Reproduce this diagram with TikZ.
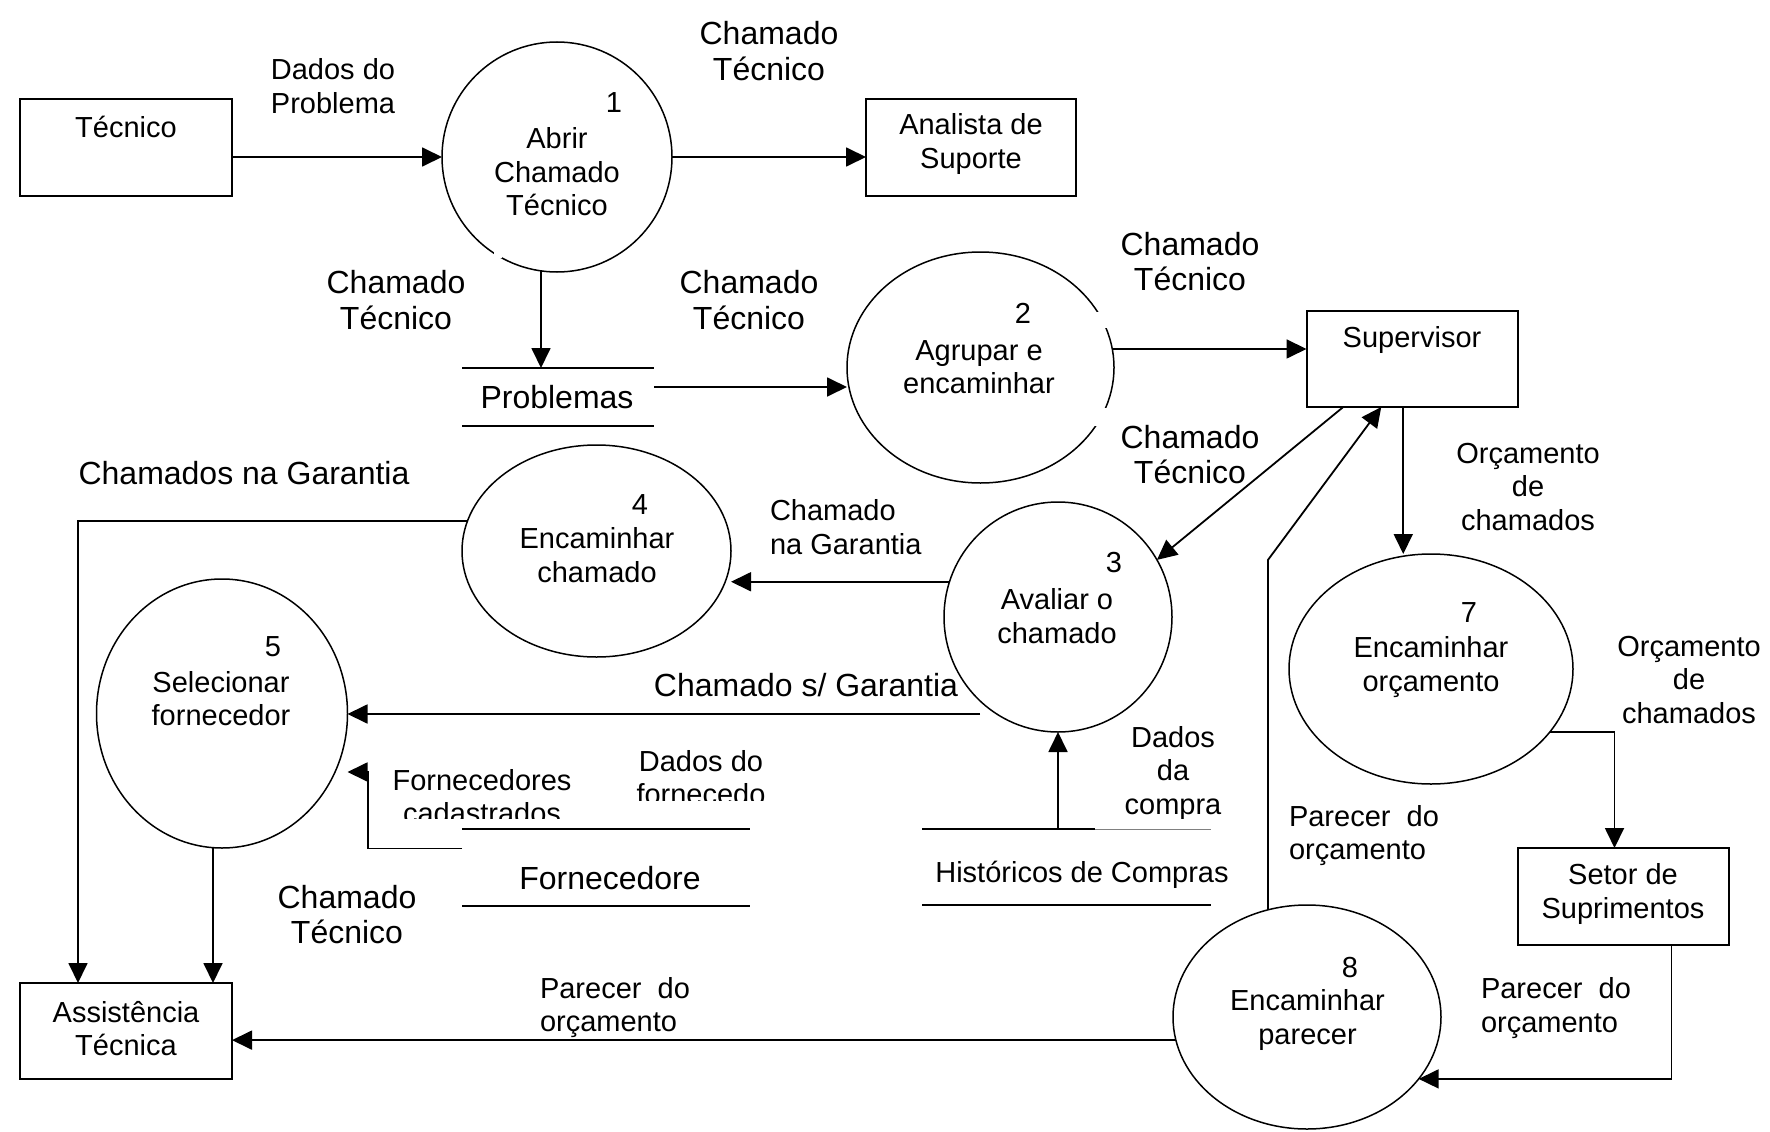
\documentclass[tikz,border=0pt]{standalone}
\usepackage{fontspec}
\setmainfont{Liberation Sans}
\usetikzlibrary{arrows.meta,shapes.geometric,calc}

\begin{document}
\begin{tikzpicture}[x=1pt,y=-1pt,
  every node/.style={inner sep=0pt, outer sep=0pt},
  sm/.style={font=\fontsize{29}{33.5}\selectfont, align=center},
  bg/.style={font=\fontsize{32}{35.5}\selectfont, align=center},
  proc/.style={ellipse, draw, line width=1.5pt},
  ent/.style={draw, line width=2pt},
  store/.style={},
  flow/.style={line width=1.8pt, -{Triangle[length=20pt,width=19pt]}},
  storeline/.style={line width=2pt},
]
\path[use as bounding box] (0,0) rectangle (1770,1132);
\fill[white] (0,0) rectangle (1770,1132);

% external entities
\node[ent, minimum width=212pt, minimum height=97pt] (tec) at (126,147.5) {};
\node[ent, minimum width=210pt, minimum height=97pt] (an) at (971,147.5) {};
\node[ent, minimum width=211.5pt, minimum height=96pt] (sup) at (1412.25,359) {};
\node[ent, minimum width=211pt, minimum height=97pt] (set) at (1623.5,896.5) {};
\node[ent, minimum width=212pt, minimum height=96pt] (asst) at (126,1031) {};

% processes
\node[proc, minimum width=230pt, minimum height=230pt] (c1) at (557,157) {};
\node[proc, minimum width=267pt, minimum height=231pt] (c2) at (980.5,367.5) {};
\node[proc, minimum width=228pt, minimum height=230pt] (c3) at (1058,617) {};
\node[proc, minimum width=269pt, minimum height=212pt] (c4) at (596.5,551) {};
\node[proc, minimum width=251pt, minimum height=269pt] (c5) at (222,713.5) {};
\node[proc, minimum width=284pt, minimum height=230pt] (c7) at (1431,669) {};
\node[proc, minimum width=268pt, minimum height=224pt] (c8) at (1307,1017) {};

% small breaks in the outlines of processes 1 and 2
\fill[white] (1088,312) rectangle (1114,328);
\fill[white] (1088,408) rectangle (1114,426);
\fill[white] (494,250) rectangle (502,258);

% data stores
\node[store, minimum width=192pt, minimum height=58pt] (probs) at (558,397) {};
\node[store, minimum width=288pt, minimum height=77pt] (fs) at (606,867.5) {};
\node[store, minimum width=289pt, minimum height=76pt] (hs) at (1066.5,867) {};
\draw[storeline] (probs.north west) -- (probs.north east)
                 (probs.south west) -- (probs.south east);
\draw[storeline] (fs.north west) -- (fs.north east)
                 (fs.south west) -- (fs.south east);
\draw[storeline] (hs.north west) -- +(173,0)
                 (hs.south west) -- (hs.south east);
\draw[line width=1pt, gray] (hs.north west) ++(173,0) -- (hs.north east);

% texts inside shapes
\node[sm] (tect) at (126,127) {Técnico};
\node[sm] (ant) at (971,144) {Analista de\\Suporte};
\node[sm] (supt) at (1412,340) {Supervisor};
\node[sm] (sett) at (1623,894) {Setor de\\Suprimentos};
\node[sm] (asstt) at (126,1028.5) {Assistência\\Técnica};

\node[sm] (n1) at (614,103) {1};
\node[sm] (t1) at (557,172) {Abrir\\Chamado\\Técnico};
\node[sm] (n2) at (1023,313) {2};
\node[sm] (t2) at (979,367) {Agrupar e\\encaminhar};
\node[sm] (n3) at (1114,563) {3};
\node[sm] (t3) at (1057,616) {Avaliar o\\chamado};
\node[sm] (n4) at (640,505) {4};
\node[sm] (t4) at (597,555) {Encaminhar\\chamado};
\node[sm] (n5) at (273,647) {5};
\node[sm] (t5) at (221,698.5) {Selecionar\\fornecedor};
\node[sm] (n7) at (1469,613) {7};
\node[sm] (t7) at (1431,667) {Encaminhar\\orçamento};
\node[sm] (n8) at (1350,968) {8};
\node[sm] (t8) at (1307.5,1020) {Encaminhar\\parecer};

\node[bg] (probst) at (557,397) {Problemas};
\node[bg] (fst) at (610,878) {Fornecedore};
\node[sm] (hst) at (1082,875) {Históricos de Compras};

% flow labels
\node[sm] (l1) at (333,86) {Dados do\\Problema};
\node[bg] (l2) at (769,51) {Chamado\\Técnico};
\node[bg] (l3) at (396,300) {Chamado\\Técnico};
\node[bg] (l4) at (749,300) {Chamado\\Técnico};
\node[bg] (l5) at (1190,261.5) {Chamado\\Técnico};
\node[bg] (l6) at (1190,454.5) {Chamado\\Técnico};
\node[sm] (l7) at (1528,487) {Orçamento\\de\\chamados};
\node[bg] (l8) at (244,473) {Chamados na Garantia};
\node[sm, align=left, anchor=west] (l9) at (770,527) {Chamado\\na Garantia};
\node[bg] (l10) at (806,685) {Chamado s/ Garantia};
\node[sm] (l11) at (1689,680) {Orçamento\\de\\chamados};
\begin{scope}
  \clip (380,740) rectangle (600,818);
  \node[sm] (l12) at (482,796.5) {Fornecedores\\cadastrados};
\end{scope}
\begin{scope}
  \clip (600,730) rectangle (766,800);
  \node[sm] (l13) at (701,777.5) {Dados do\\fornecedo};
\end{scope}
\begin{scope}
  \clip (1100,700) rectangle (1260,818);
  \node[sm] (l14) at (1173,773) {Dados\\da\\compra};
\end{scope}
\node[sm, align=left, anchor=west] (l15) at (1289,835.5) {Parecer\ \ do\\orçamento};
\node[bg] (l16) at (347,914.5) {Chamado\\Técnico};
\node[sm, align=left, anchor=west] (l17) at (540,1007.5) {Parecer\ \ do\\orçamento};
\node[sm, align=left, anchor=west] (l18) at (1481,1008) {Parecer\ \ do\\orçamento};

% data flows
\coordinate (pa) at ([yshift=10pt]probs.east);
\coordinate (s7) at ([xshift=-9pt]sup.south);
\coordinate (g3) at (980,714);
\coordinate (q5) at ([xshift=-9pt]c5.south);
\coordinate (fc) at (368,772);

\draw[flow] (tec.east |- c1) -- (c1.west);
\draw[flow] (c1.east) -- (c1.east -| an.west);
\draw[flow] (c1.262) -- (c1.262 |- probs.north);
\draw[flow] (pa) -- (pa -| c2.west);
\draw[flow] (c2.8) -- (c2.8 -| sup.west);
\draw[flow] ([xshift=-69pt]sup.south) -- (c3.30);
\draw[flow] (c8.110) -- ++(0,-350) -- ([xshift=-31pt]sup.south);
\draw[flow] (s7) -- (s7 |- c7.north);
\draw[flow] (c3.162) -- (c3.162 -| c4.east);
\draw[flow] (g3) -- (c5.east |- g3);
\draw[flow] (c4.167) -| ([xshift=-48pt]asst.north);
\draw[flow] (q5) -- (q5 |- asst.north);
\draw[flow] ([yshift=19pt]fs.west) -| (fc) -- (fc -| c5.east);
\draw[flow] (c3.south |- hs.north) -- (c3.south);
\draw[flow] (c7.-28) -| ([xshift=-9pt]set.north);
\draw[flow] ([xshift=48pt]set.south) |- (c8.-29);
\draw[flow] (c8.190) -- (c8.190 -| asst.east);
\end{tikzpicture}
\end{document}
